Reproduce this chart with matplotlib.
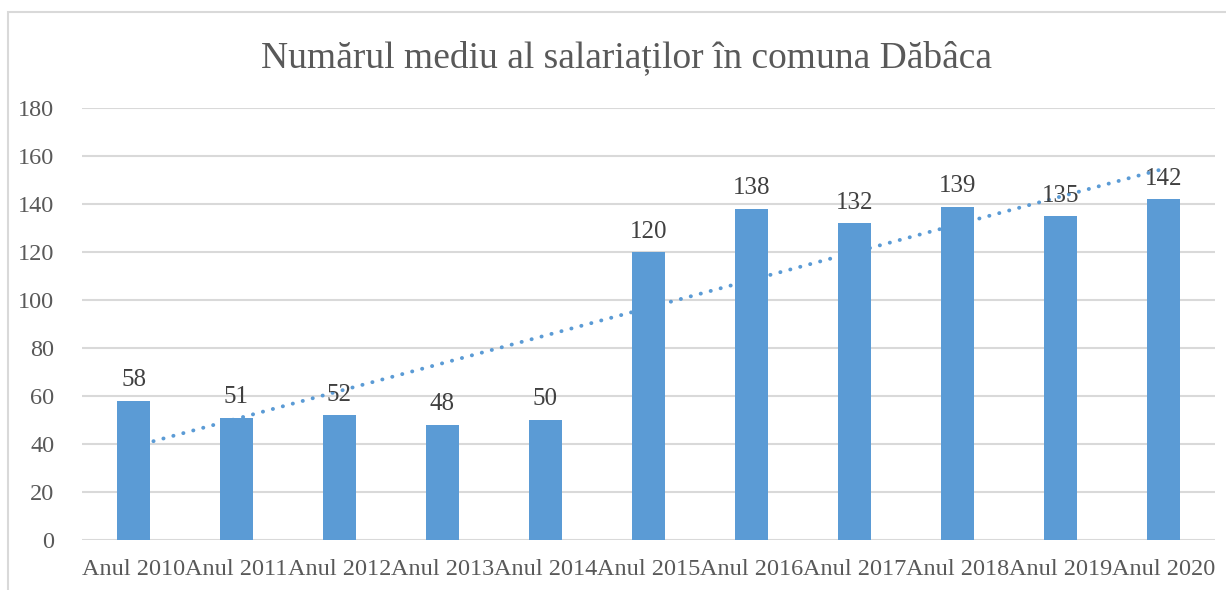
import matplotlib

matplotlib.use("Agg")
import matplotlib.pyplot as plt
from matplotlib.patches import Rectangle
import numpy as np

years = ["Anul 2010", "Anul 2011", "Anul 2012", "Anul 2013", "Anul 2014", "Anul 2015",
         "Anul 2016", "Anul 2017", "Anul 2018", "Anul 2019", "Anul 2020"]
employees = [58, 51, 52, 48, 50, 120, 138, 132, 139, 135, 142]
title = "Numărul mediu al salariaților în comuna Dăbâca"

BAR = "#5B9BD5"
TEXT = "#595959"
GRID = "#D9D9D9"

plt.rcParams["font.family"] = ["Liberation Serif", "DejaVu Serif"]

fig = plt.figure(figsize=(12.26, 5.90), dpi=100)
ax = fig.add_axes([0.0669, 0.0847, 0.924, 0.732])

x = np.arange(len(years))
ax.bar(x, employees, width=0.32, color=BAR, zorder=3)

# linear trendline, round dots, drawn behind the bars
slope, intercept = np.polyfit(x, employees, 1)
ax.plot(x, slope * x + intercept, linestyle=(0, (0.05, 2.6)), color=BAR, lw=2.8,
        zorder=2, dash_capstyle="round")

for xi, v in zip(x, employees):
    ax.text(xi, v + 4, str(v), ha="center", va="bottom", fontsize=18, color="#404040", zorder=4)

ax.set_xlim(-0.5, len(years) - 0.5)
ax.set_ylim(0, 180)
ax.set_yticks(range(0, 181, 20))
ax.set_xticks(x)
ax.set_xticklabels(years)
ax.tick_params(axis="both", length=0, labelsize=17.5, colors=TEXT)
ax.tick_params(axis="x", pad=14)
ax.tick_params(axis="y", pad=20)
ax.grid(axis="y", color=GRID, lw=1.5, zorder=0)
for s in ax.spines.values():
    s.set_visible(False)

fig.text(0.511, 0.902, title, ha="center", va="center", fontsize=27, color=TEXT)

fig.patches.append(Rectangle((8 / 1226, -0.1), 1.2, 1.1 - 12 / 590, transform=fig.transFigure,
                             fill=False, edgecolor=GRID, lw=1.5))

fig.savefig("out.png", dpi=100)
